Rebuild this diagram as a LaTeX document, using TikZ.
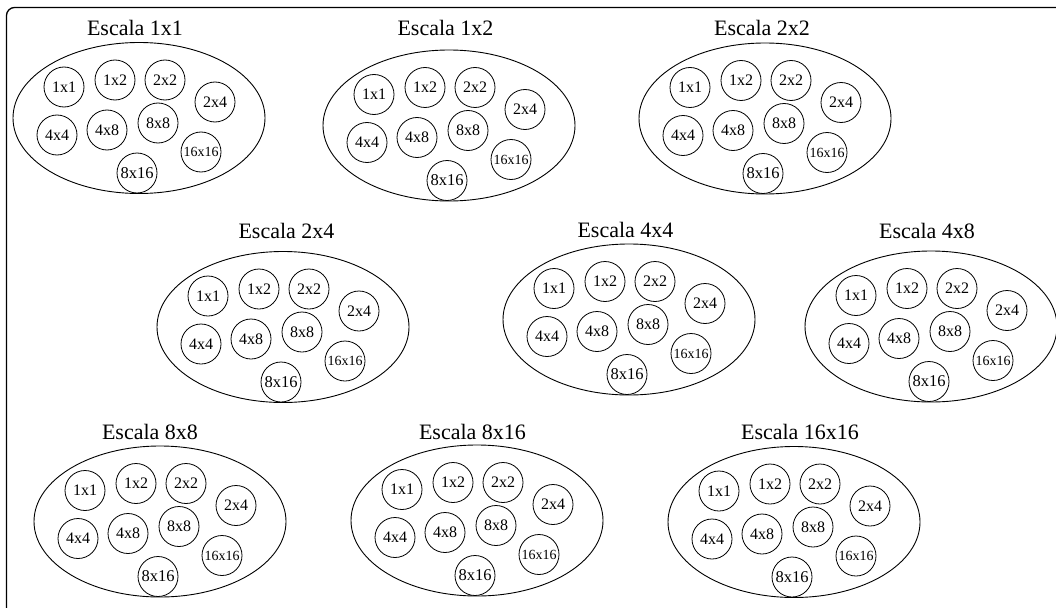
\documentclass[tikz,border=0pt]{standalone}
\usepackage{fontspec}
\setmainfont{Liberation Serif}
\usetikzlibrary{shapes.geometric}
\tikzset{
  grupo/.style={ellipse, draw, line width=0.9pt, minimum width=252pt, minimum height=151pt, inner sep=0pt},
  titulo/.style={inner sep=0pt, font=\fontsize{22}{22}\selectfont},
  celda/.style={circle, draw, line width=0.8pt, minimum size=40pt, inner sep=0pt, font=\fontsize{16}{16}\selectfont},
  celdag/.style={celda, font=\fontsize{16.5}{16.5}\selectfont},
  celdap/.style={celda, font=\fontsize{14}{14}\selectfont},
  marco/.style={draw, line width=1.3pt, rounded corners=8pt}
}
\newcommand{\grupo}[6]{%
  \node[grupo] (#1) at (#2,#3) {};
  \node[titulo, anchor=base] (#1t) at (#5,#6) {Escala #4};
  \foreach \lab/\dx/\dy/\st in {1x1/-75/-31/celda, 1x2/-24/-38/celda, 2x2/26/-38/celda,
      2x4/76/-16/celda, 4x4/-82/17/celda, 4x8/-32/12/celda, 8x8/19/5/celda,
      16x16/62/34/celdap, 8x16/-2/55/celdag}{%
    \node[\st] (#1-\lab) at (#2+\dx,#3+\dy) {\lab};
  }%
}
\begin{document}
\begin{tikzpicture}[x=1pt,y=-1pt]
\useasboundingbox (0,0) rectangle (1056,607);
\begin{scope}
\clip (0,0) rectangle (1056,607);
\draw[marco] (6.5,7.5) rectangle (1080,640);
\grupo{g1}{139}{118}{1x1}{135}{36}
\grupo{g2}{449}{125.5}{1x2}{445.5}{36}
\grupo{g3}{765}{118.5}{2x2}{762}{36}
\grupo{g4}{283}{327}{2x4}{286.5}{238}
\grupo{g5}{629}{319.5}{4x4}{625.5}{237}
\grupo{g6}{931}{326.5}{4x8}{927}{238}
\grupo{g7}{160}{521.5}{8x8}{150}{439}
\grupo{g8}{477}{520.5}{8x16}{472.5}{439}
\grupo{g9}{794}{522}{16x16}{800}{439}
\end{scope}
\end{tikzpicture}
\end{document}
